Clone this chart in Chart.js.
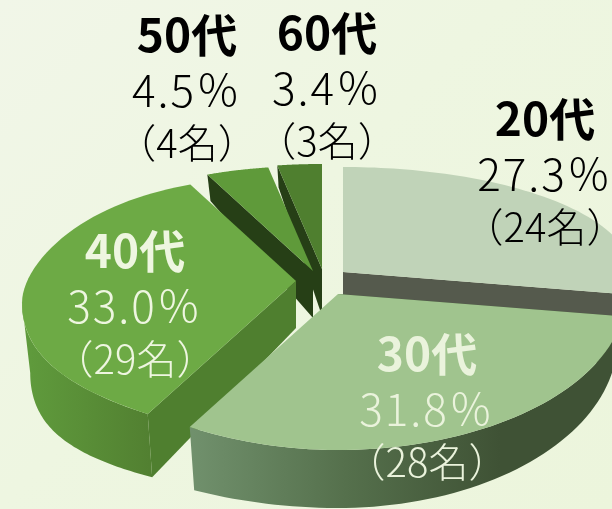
<!DOCTYPE html>
<html lang="ja">
<head>
<meta charset="utf-8">
<title>年代別構成</title>
<script src="https://cdn.jsdelivr.net/npm/chart.js@4"></script>
<style>
  html, body { margin: 0; padding: 0; }
  body { width: 612px; height: 509px; overflow: hidden; background: linear-gradient(135deg, #f1f6e8 0%, #eef6e1 45%, #ecf5dc 100%); }
  canvas { display: block; }
</style>
</head>
<body>
<canvas id="pie3d" width="612" height="509"></canvas>
<script>
const categories = ['20代', '30代', '40代', '50代', '60代'];
const shares = [27.3, 31.8, 33.0, 4.5, 3.4];
const headcounts = [24, 28, 29, 4, 3];

/* slice styling */
const topColors = ['#c0d3b8', '#a0c48e', '#6daa45', '#5f9a3a', '#4f7f2f'];
const cutColors = ['#555a4d', '#3f5235', '#4f7f2f', '#263f16', '#263f16'];
const textColors = ['#000', '#eaf3dc', '#eef6e0', '#000', '#000'];
const explodeX = [21, 16, -26, -9, 0];
const explodeY = [0, 22, 9, -1, -3];
const labelX = [545, 427, 135, 187, 327];
const labelY = [136, 371, 268, 52, 50];
const drawOrder = [0, 4, 3, 2, 1];

const PIE_X = 322, PIE_Y = 272;

/* the picture is a tilted pie: top face is two half ellipses, the base sits lower */
function project(slice, theta, level) {
    const phi = theta - 0.24 * Math.sin(theta) * Math.max(Math.cos(theta), 0);
    const s = Math.sin(phi), c = Math.cos(phi);
    const rx = s < 0 ? 274 : 288;
    const ry = c > 0 ? 105 : 156;
    const left = s < 0 ? s * s : 0;
    const depth = (c > 0 ? 46 - 25 * c : 46 - 12 * c) + 24 * left;
    return {
        x: PIE_X + explodeX[slice] + rx * s * (1 - 0.03 * level),
        y: PIE_Y + explodeY[slice] - ry * c + 22 * left * left + depth * level
    };
}

function apex(slice, level) {
    return { x: PIE_X + explodeX[slice], y: PIE_Y + explodeY[slice] + 47 * level };
}

function traceArc(ctx, slice, from, to, level, first) {
    const steps = 60;
    for (let i = 0; i <= steps; i++) {
        const p = project(slice, from + (to - from) * i / steps, level);
        if (i === 0 && first) ctx.moveTo(p.x, p.y);
        else ctx.lineTo(p.x, p.y);
    }
}

function drawCut(ctx, slice, theta, color) {
    const a0 = apex(slice, 0), a1 = apex(slice, 1);
    const p0 = project(slice, theta, 0), p1 = project(slice, theta, 1);
    ctx.beginPath();
    ctx.moveTo(a0.x, a0.y);
    ctx.lineTo(p0.x, p0.y);
    ctx.lineTo(p1.x, p1.y);
    ctx.lineTo(a1.x, a1.y);
    ctx.closePath();
    ctx.fillStyle = color;
    ctx.fill();
}

function wallFill(ctx, slice) {
    if (slice === 1) {
        const g = ctx.createLinearGradient(193, 0, 500, 0);
        g.addColorStop(0, '#70906c');
        g.addColorStop(0.5, '#55704c');
        g.addColorStop(1, '#3f5235');
        return g;
    }
    if (slice === 2) {
        const g = ctx.createLinearGradient(30, 0, 150, 0);
        g.addColorStop(0, '#5f9a3c');
        g.addColorStop(1, '#528031');
        return g;
    }
    return cutColors[slice];
}

function drawWall(ctx, slice, from, to) {
    ctx.beginPath();
    traceArc(ctx, slice, from, to, 0, true);
    traceArc(ctx, slice, to, from, 1, false);
    ctx.closePath();
    ctx.fillStyle = wallFill(ctx, slice);
    ctx.fill();
}

function drawTop(ctx, slice, from, to) {
    const a = apex(slice, 0);
    ctx.beginPath();
    ctx.moveTo(a.x, a.y);
    traceArc(ctx, slice, from, to, 0, false);
    ctx.closePath();
    ctx.fillStyle = topColors[slice];
    ctx.fill();
}

const pie3dPlugin = {
    id: 'pie3d',
    // angles come from the library's arc elements, flat drawing is replaced
    beforeDatasetsDraw(chart) {
        const ctx = chart.ctx;
        const arcs = chart.getDatasetMeta(0).data;
        ctx.save();
        drawOrder.forEach(i => {
            const from = arcs[i].startAngle + Math.PI / 2;
            const to = arcs[i].endAngle + Math.PI / 2;
            // which cut face shows depends on the side of the pie
            if (i === 0) drawCut(ctx, i, to, cutColors[i]);
            else drawCut(ctx, i, from, cutColors[i]);
            if (i === 1 || i === 2) {
                // stop the 40代 wall at the left extreme so its edge is the tangent
                const wallTo = i === 2 ? Math.PI * 1.5 : to;
                drawWall(ctx, i, from, wallTo);
            }
            drawTop(ctx, i, from, to);
        });
        ctx.restore();
        return false;
    },
    afterDraw(chart) {
        const ctx = chart.ctx;
        ctx.save();
        ctx.textAlign = 'center';
        ctx.textBaseline = 'alphabetic';
        categories.forEach((name, i) => {
            ctx.fillStyle = textColors[i];
            ctx.letterSpacing = '0px';
            ctx.font = "700 46px 'Noto Sans CJK JP'";
            ctx.fillText(name, labelX[i], labelY[i]);
            ctx.letterSpacing = '2px';
            ctx.font = "300 44px 'Noto Sans CJK JP'";
            ctx.fillText(shares[i].toFixed(1) + '％', labelX[i], labelY[i] + 55);
            ctx.letterSpacing = '0px';
            ctx.font = "300 40px 'Noto Sans CJK JP'";
            ctx.fillText('（' + headcounts[i] + '名）', labelX[i], labelY[i] + 106);
        });
        ctx.restore();
    }
};

new Chart(document.getElementById('pie3d'), {
    type: 'pie',
    data: {
        labels: categories,
        datasets: [{ data: shares, backgroundColor: topColors, borderWidth: 0 }]
    },
    options: {
        responsive: false,
        animation: false,
        events: [],
        plugins: { legend: { display: false }, tooltip: { enabled: false } }
    },
    plugins: [pie3dPlugin]
});
</script>
</body>
</html>
